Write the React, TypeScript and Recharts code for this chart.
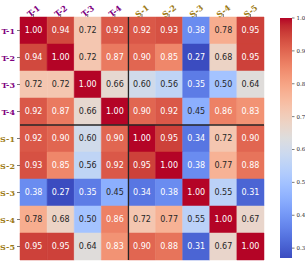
import React from 'react';
import { ScatterChart, XAxis, YAxis, ReferenceArea, ReferenceLine } from 'recharts';

const CATEGORIES = ['T-1', 'T-2', 'T-3', 'T-4', 'S-1', 'S-2', 'S-3', 'S-4', 'S-5'];
const ROW_T1 = [1.0, 0.94, 0.72, 0.92, 0.92, 0.93, 0.38, 0.78, 0.95];
const ROW_T2 = [0.94, 1.0, 0.72, 0.87, 0.9, 0.85, 0.27, 0.68, 0.95];
const ROW_T3 = [0.72, 0.72, 1.0, 0.66, 0.6, 0.56, 0.35, 0.5, 0.64];
const ROW_T4 = [0.92, 0.87, 0.66, 1.0, 0.9, 0.92, 0.45, 0.86, 0.83];
const ROW_S1 = [0.92, 0.9, 0.6, 0.9, 1.0, 0.95, 0.34, 0.72, 0.9];
const ROW_S2 = [0.93, 0.85, 0.56, 0.92, 0.95, 1.0, 0.38, 0.77, 0.88];
const ROW_S3 = [0.38, 0.27, 0.35, 0.45, 0.34, 0.38, 1.0, 0.55, 0.31];
const ROW_S4 = [0.78, 0.68, 0.5, 0.86, 0.72, 0.77, 0.55, 1.0, 0.67];
const ROW_S5 = [0.95, 0.95, 0.64, 0.83, 0.9, 0.88, 0.31, 0.67, 1.0];
const MATRIX = [ROW_T1, ROW_T2, ROW_T3, ROW_T4, ROW_S1, ROW_S2, ROW_S3, ROW_S4, ROW_S5];
const COLORBAR_TICKS = [0.3, 0.4, 0.5, 0.6, 0.7, 0.8, 0.9, 1.0];
const VMIN = 0.27;
const VMAX = 1.0;

const COOLWARM: number[][] = [
  [59, 76, 192], [68, 90, 204], [77, 104, 215], [87, 117, 225], [98, 130, 234],
  [108, 142, 241], [119, 154, 247], [130, 165, 251], [141, 176, 254], [152, 185, 255],
  [163, 194, 255], [174, 201, 253], [184, 208, 249], [194, 213, 244], [204, 217, 238],
  [213, 219, 230], [221, 221, 221], [229, 216, 209], [236, 211, 197], [241, 204, 185],
  [245, 196, 173], [247, 187, 160], [247, 177, 148], [247, 166, 135], [244, 154, 123],
  [241, 141, 111], [236, 127, 99], [229, 112, 88], [222, 96, 77], [213, 80, 66],
  [203, 62, 56], [192, 40, 47], [180, 4, 38],
];

function cmapRGB(t: number): number[] {
  const c = Math.max(0, Math.min(1, t)) * (COOLWARM.length - 1);
  const i = Math.min(Math.floor(c), COOLWARM.length - 2);
  const f = c - i;
  const a = COOLWARM[i];
  const b = COOLWARM[i + 1];
  return [0, 1, 2].map((k) => a[k] + (b[k] - a[k]) * f);
}
function rgbStr(c: number[]) {
  return `rgb(${Math.round(c[0])},${Math.round(c[1])},${Math.round(c[2])})`;
}
function colorFor(v: number) {
  return rgbStr(cmapRGB((v - VMIN) / (VMAX - VMIN)));
}
function textColorFor(v: number) {
  const c = cmapRGB((v - VMIN) / (VMAX - VMIN));
  const lin = c.map((x) => {
    const s = x / 255;
    return s <= 0.03928 ? s / 12.92 : Math.pow((s + 0.055) / 1.055, 2.4);
  });
  const lum = 0.2126 * lin[0] + 0.7152 * lin[1] + 0.0722 * lin[2];
  return lum > 0.425 ? '#262626' : '#ffffff';
}

const T_COLOR = '#800080';
const S_COLOR = '#9c7a16';
const labelColor = (name: string) => (name.startsWith('T') ? T_COLOR : S_COLOR);

const POSITIONS = CATEGORIES.map((_, i) => i + 0.5);

const XTick = (props: any) => {
  const { x, y, payload } = props;
  const name = CATEGORIES[Math.round(payload.value - 0.5)];
  return (
    <g transform={`translate(${x},${y - 1})`}>
      <text
        transform="rotate(-38)"
        textAnchor="middle"
        dominantBaseline="central"
        fontFamily="DejaVu Serif"
        fontWeight="bold"
        fontSize={8}
        fill={labelColor(name)}
      >
        {name}
      </text>
    </g>
  );
};

const YTick = (props: any) => {
  const { x, y, payload } = props;
  const name = CATEGORIES[Math.round(payload.value - 0.5)];
  return (
    <text
      x={x}
      y={y}
      textAnchor="end"
      dominantBaseline="central"
      fontFamily="DejaVu Serif"
      fontWeight="bold"
      fontSize={8}
      fill={labelColor(name)}
    >
      {name}
    </text>
  );
};

const N_STOPS = COOLWARM.length;

const GradientRect = (props: any) => {
  const { x, y, width, height } = props;
  const stops = [];
  for (let k = 0; k < N_STOPS; k++) {
    const c = COOLWARM[N_STOPS - 1 - k];
    stops.push(<stop key={k} offset={`${(k / (N_STOPS - 1)) * 100}%`} stopColor={rgbStr(c)} />);
  }
  return (
    <g>
      <defs>
        <linearGradient id="cbarGrad" x1="0" y1="0" x2="0" y2="1">
          {stops}
        </linearGradient>
      </defs>
      <rect x={x} y={y} width={width} height={height} fill="url(#cbarGrad)" />
    </g>
  );
};

export default function App() {
  const cells: React.ReactNode[] = [];
  MATRIX.forEach((row, r) => {
    row.forEach((v, c) => {
      cells.push(
        <ReferenceArea
          key={`${r}-${c}`}
          xAxisId="x"
          yAxisId="y"
          x1={c}
          x2={c + 1}
          y1={r}
          y2={r + 1}
          fill={colorFor(v)}
          fillOpacity={1}
          stroke={colorFor(v)}
          strokeWidth={0.5}
          ifOverflow="visible"
          label={{
            value: v.toFixed(2),
            position: 'center',
            fill: textColorFor(v),
            fontSize: 8,
            fontFamily: 'DejaVu Sans',
          }}
        />
      );
    });
  });

  return (
    <div style={{ position: 'absolute', left: 0, top: 0, width: 305, height: 262, background: '#fff' }}>
      <div style={{ position: 'absolute', left: 0, top: 0 }}>
        <ScatterChart width={305} height={262} margin={{ top: 0, right: 41, bottom: 2, left: 0 }}>
          <XAxis
            type="number"
            dataKey="x"
            xAxisId="x"
            orientation="top"
            domain={[0, 9]}
            ticks={POSITIONS}
            interval={0}
            height={17}
            axisLine={false}
            tickSize={3}
            tickLine={{ stroke: '#555', strokeWidth: 0.8 }}
            tick={<XTick />}
            allowDataOverflow
          />
          <YAxis
            type="number"
            dataKey="y"
            yAxisId="y"
            domain={[0, 9]}
            reversed
            ticks={POSITIONS}
            interval={0}
            width={20}
            axisLine={false}
            tickSize={3}
            tickLine={{ stroke: '#555', strokeWidth: 0.8 }}
            tick={<YTick />}
            allowDataOverflow
          />
          {cells}
          <ReferenceLine xAxisId="x" yAxisId="y" x={4} stroke="#262626" strokeWidth={1.3} />
          <ReferenceLine xAxisId="x" yAxisId="y" y={4} stroke="#262626" strokeWidth={1.3} />
        </ScatterChart>
      </div>
      <div style={{ position: 'absolute', left: 0, top: 0 }}>
        <ScatterChart width={305} height={262} margin={{ top: 18, right: 0, bottom: 4, left: 280 }}>
          <XAxis type="number" dataKey="x" domain={[0, 1]} hide xAxisId="cx" allowDataOverflow />
          <YAxis
            yAxisId="cy"
            type="number"
            dataKey="y"
            orientation="right"
            domain={[VMIN, VMAX]}
            ticks={COLORBAR_TICKS}
            interval={0}
            width={13}
            axisLine={false}
            tickSize={2.5}
            tickLine={{ stroke: '#444', strokeWidth: 0.7 }}
            tick={{ fontSize: 5.5, fill: '#262626', fontFamily: 'DejaVu Serif' }}
            tickFormatter={(v: number) => v.toFixed(1)}
            allowDataOverflow
          />
          <ReferenceArea
            xAxisId="cx"
            yAxisId="cy"
            x1={0}
            x2={1}
            y1={VMIN}
            y2={VMAX}
            fillOpacity={1}
            ifOverflow="visible"
            shape={<GradientRect />}
          />
        </ScatterChart>
      </div>
    </div>
  );
}
